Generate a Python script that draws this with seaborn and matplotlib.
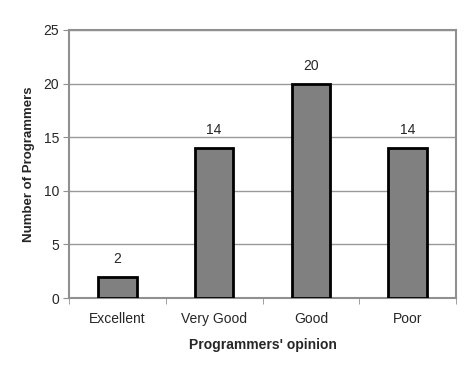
import numpy as np
import pandas as pd
import matplotlib
matplotlib.use("Agg")
import matplotlib.pyplot as plt
import seaborn as sn

opinions = ["Excellent", "Very Good", "Good", "Poor"]
counts = [2, 14, 20, 14]

df = pd.DataFrame({"Opinion": opinions, "Count": counts})

sn.set_style("white")
plt.rcParams["font.family"] = ["Liberation Sans", "DejaVu Sans"]

fig = plt.figure(figsize=(4.74, 3.73), dpi=100)
ax = fig.add_axes([0.1456, 0.201, 0.8164, 0.7186])
sn.barplot(data=df, x="Opinion", y="Count", color="#808080", width=0.4,
           edgecolor="black", linewidth=2, saturation=1, ax=ax, zorder=3)

# value labels over bars
for i, v in enumerate(counts):
    ax.text(i, v + 1.0, str(v), ha="center", va="bottom", fontsize=10)

ax.set_ylim(0, 25)
ax.set_xlim(-0.5, 3.5)
ax.set_yticks(np.arange(0, 26, 5))
ax.yaxis.grid(True, color="#999999", linewidth=1, zorder=0)
ax.set_axisbelow(True)
for s in ax.spines.values():
    s.set_color("#909090")
    s.set_linewidth(1.5)

ax.set_xticks([0, 1, 2, 3])
ax.set_xticklabels(opinions, fontsize=10)
ax.set_xticks([-0.5, 0.5, 1.5, 2.5, 3.5], minor=True)
ax.tick_params(axis="x", which="major", length=0, pad=10)
ax.tick_params(axis="x", which="minor", length=4, color="#909090", direction="out", bottom=True)
ax.tick_params(axis="y", length=4, color="#909090", direction="out", left=True, labelsize=10, pad=3)

ax.set_xlabel("Programmers' opinion", fontsize=10, fontweight="bold", labelpad=9)
ax.set_ylabel("Number of Programmers", fontsize=9.5, fontweight="bold", labelpad=6)

fig.savefig("out.png", dpi=100)
